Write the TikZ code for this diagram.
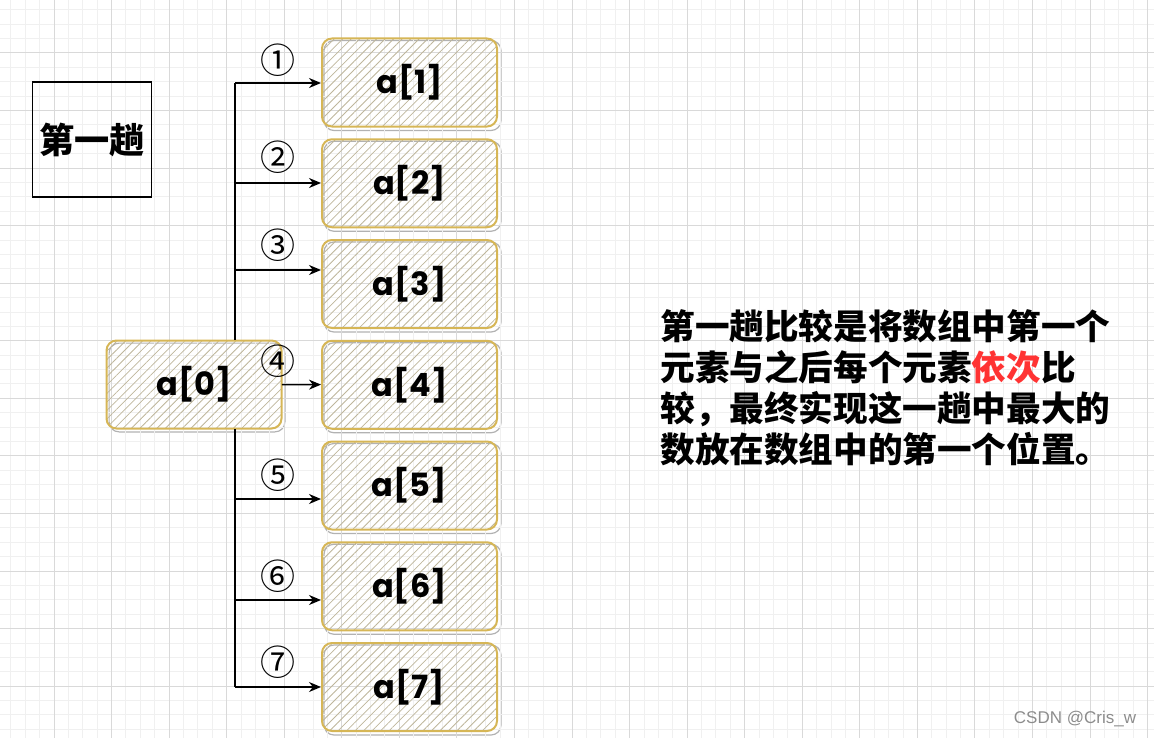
\documentclass[tikz,border=0pt]{standalone}
\usepackage{fontspec}
\newfontfamily\cjk{Noto Sans CJK SC}
\newfontfamily\elemfont{Poppins}
\newfontfamily\markfont{Liberation Sans}
\usetikzlibrary{patterns.meta,arrows.meta,backgrounds}
\definecolor{gold}{HTML}{D6B656}
\definecolor{hatch}{RGB}{190,182,155}
\definecolor{mred}{HTML}{FF3333}
\tikzset{
  gridminor/.style={line width=0.5pt,black!6},
  gridmajor/.style={line width=0.5pt,black!15},
  elem/.style={draw=gold,line width=1pt,rounded corners=5pt,minimum width=87.5pt,minimum height=44pt,
    pattern={Lines[angle=45,distance=3pt,line width=0.4pt]},pattern color=hatch,
    font=\elemfont\bfseries\fontsize{16pt}{18pt}\selectfont},
  sketch/.style={draw=black!30,line width=0.6pt,rounded corners=5pt},
  conn/.style={-{Stealth[length=6pt,width=5pt]},line width=0.7pt},
  lbl/.style={font=\cjk\fontsize{17.5pt}{19pt}\selectfont,inner sep=0pt},
}
\begin{document}
\begin{tikzpicture}[x=0.5pt,y=-0.5pt]
  \useasboundingbox (0,0) rectangle (1154,738);
  % grid
  \foreach \i in {0,...,80} \draw[gridminor] ({-3.55+14.39*\i},0) -- ++(0,738);
  \foreach \j in {0,...,52} \draw[gridminor] (0,{-4.56+14.39*\j}) -- ++(1154,0);
  \foreach \i in {0,...,20} \draw[gridmajor] ({-3.55+57.56*\i},0) -- ++(0,738);
  \foreach \j in {0,...,13} \draw[gridmajor] (0,{-4.56+57.56*\j}) -- ++(1154,0);

  \node[draw,line width=0.6pt,minimum width=58pt,minimum height=57.5pt,font=\cjk\bfseries\fontsize{17.6pt}{20pt}\selectfont] (pass) at (92,139.5) {第一趟};

  \node[elem] (a0) at (194,384.5) {a[0]};
  \foreach \i in {1,...,7} \node[elem] (a\i) at (409.5,{82.5+100.75*(\i-1)}) {a[\i]};
  \begin{scope}[on background layer]
    \foreach \n in {a0,a1,a2,a3,a4,a5,a6,a7}
      \draw[sketch] ([shift={(3,3)}]\n.south west) rectangle ([shift={(3,3)}]\n.north east);
  \end{scope}

  % arrows
  \foreach \i/\y in {1/83,2/183,3/270,5/499,6/600,7/687}{
    \coordinate (s\i) at (235,\y);
    \draw[conn] (s\i) -- (s\i -| a\i.west);
  }
  \draw[line width=0.7pt] (s1) -- (s1 |- a0.north);
  \draw[line width=0.7pt] (s7) -- (s7 |- a0.south);
  \draw[conn] (a0) -- (a4);
  \foreach \i/\y/\c in {1/60/①,2/157/②,3/245/③,4/361/④,5/475/⑤,6/576/⑥,7/662/⑦}
    \node[lbl] (n\i) at (278,\y) {\c};

  \node[anchor=west,inner sep=0pt,align=left,font=\cjk\bfseries\fontsize{17.3pt}{20.5pt}\selectfont] (note) at (660,388)
    {第一趟比较是将数组中第一个\\元素与之后每个元素\textcolor{mred}{依次}比\\较，最终实现这一趟中最大的\\数放在数组中的第一个位置。};
  \node[font=\markfont\fontsize{8.5pt}{10pt}\selectfont,text=black!45] (wm) at (1075,719) {CSDN @Cris\_w};
\end{tikzpicture}
\end{document}
